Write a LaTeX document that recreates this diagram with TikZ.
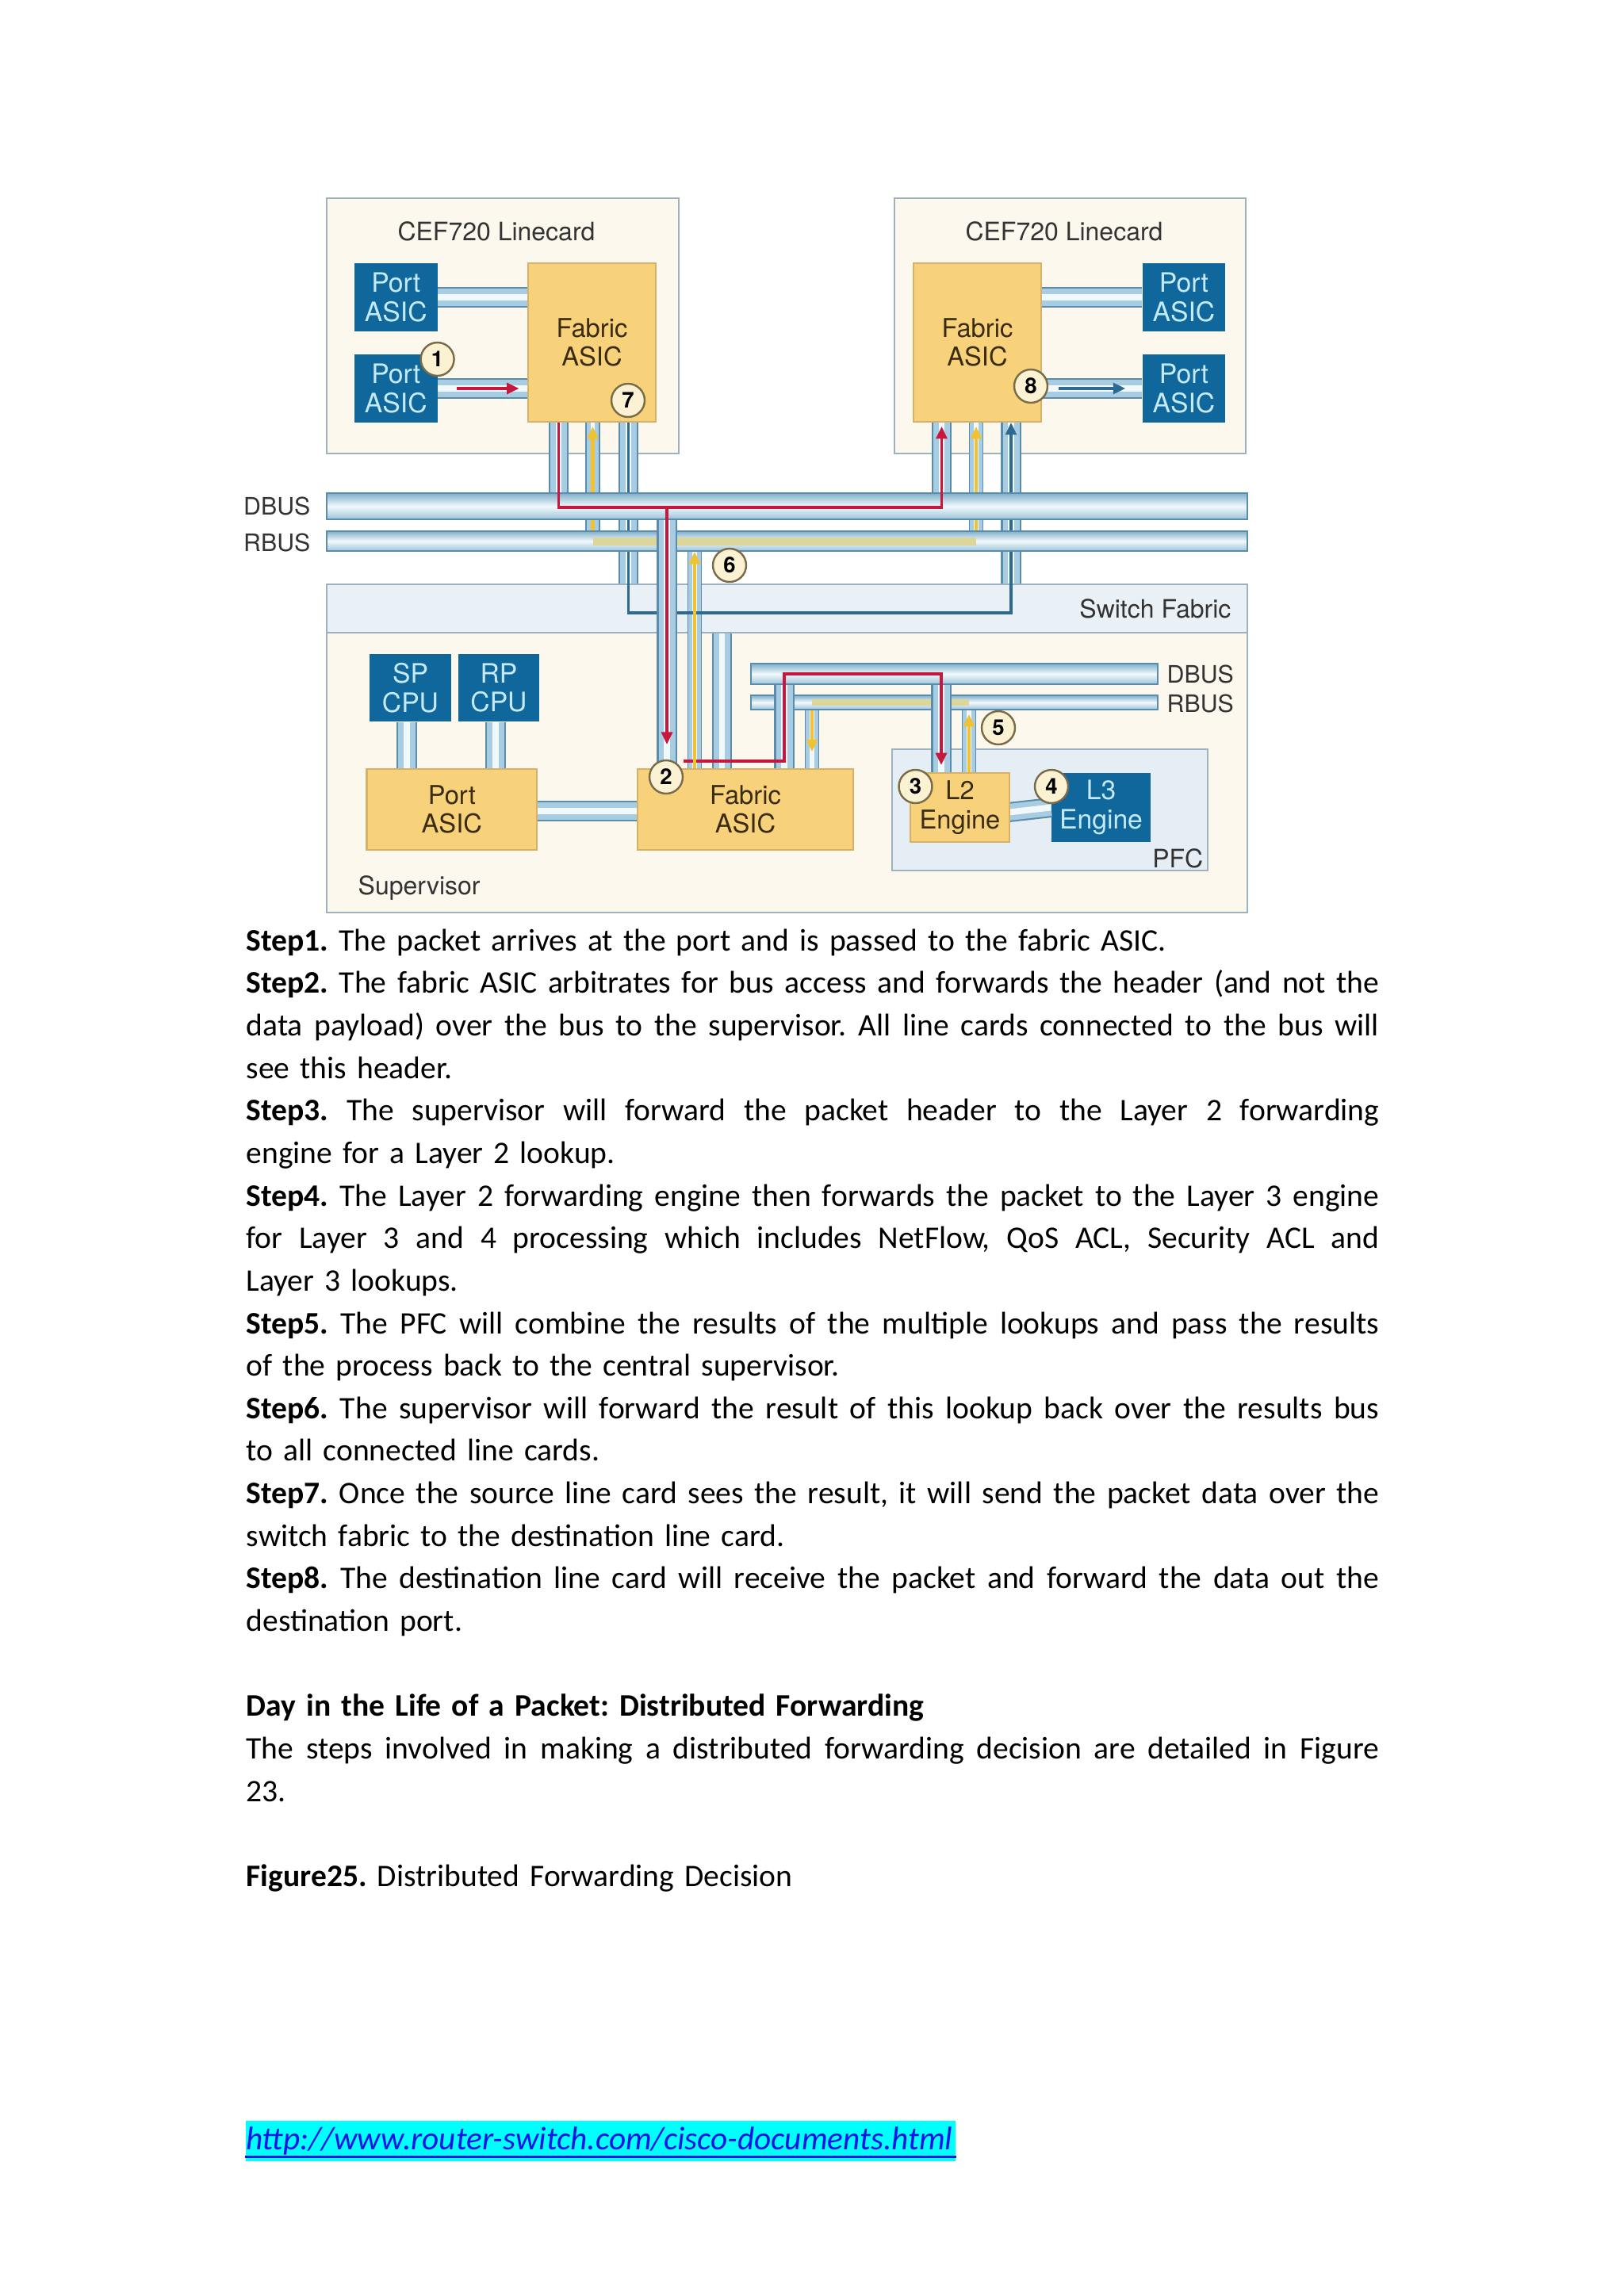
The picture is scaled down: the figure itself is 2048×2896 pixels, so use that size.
\documentclass[tikz,border=0pt]{standalone}
\usepackage{fontspec}
\setmainfont{Carlito}
\newfontfamily\hv{TeX Gyre Heros}
\usetikzlibrary{arrows.meta}
\definecolor{cardfill}{HTML}{FCF8EE}
\definecolor{cardline}{HTML}{9DB2BE}
\definecolor{portblue}{HTML}{10679C}
\definecolor{porttext}{HTML}{C4EAF8}
\definecolor{fabfill}{HTML}{F8D27B}
\definecolor{fabline}{HTML}{D6B167}
\definecolor{fabtext}{HTML}{3A2C12}
\definecolor{pipeedge}{HTML}{5A8CAB}
\definecolor{pipefill}{HTML}{A8CCE1}
\definecolor{pipehl}{HTML}{F2F9FD}
\definecolor{bustop}{HTML}{7FAFC9}
\definecolor{busbot}{HTML}{9CC3D8}
\definecolor{swffill}{HTML}{E9F1F7}
\definecolor{pfcfill}{HTML}{E6EEF5}
\definecolor{redln}{HTML}{C8173D}
\definecolor{yelln}{HTML}{F0C232}
\definecolor{yband}{HTML}{DDD69A}
\definecolor{bluln}{HTML}{2C6A92}
\definecolor{badgefill}{HTML}{FBF2D3}
\definecolor{badgeline}{HTML}{7A6B48}
\definecolor{labtext}{HTML}{333333}
\definecolor{ublue}{HTML}{1414E6}
\definecolor{hlcyan}{RGB}{0,255,255}
\newcommand\tube[4]{%
  \draw[pipeedge,line width=#1]#4;
  \draw[pipefill,line width=#2]#4;
  \draw[pipehl,line width=#3]#4;}
\newcommand\jline[1]{\hbox to 415.3pt{\spaceskip=0.226em plus 1em minus 0.06em\relax #1}}
\begin{document}
\begin{tikzpicture}[x=0.2907pt,y=-0.2907pt,
  dfont/.style={font=\hv\fontsize{9.3}{10.6}\selectfont},
  card/.style={draw=cardline, fill=cardfill, line width=0.8pt, inner sep=0},
  port/.style={font=\hv\fontsize{9.8}{10.6}\selectfont, fill=portblue, text=porttext, align=center, inner sep=0, minimum width=30.4pt, minimum height=25.2pt},
  fab/.style={font=\hv\fontsize{9.5}{10.6}\selectfont, draw=fabline, fill=fabfill, line width=0.6pt, text=fabtext, align=center, inner sep=0},
  lab/.style={dfont, text=labtext, inner sep=0},
  blab/.style={font=\hv\fontsize{8.8}{10}\selectfont, text=labtext, inner sep=0},
  bus/.style={draw=pipeedge, line width=0.5pt, top color=bustop, bottom color=busbot, middle color=pipehl, inner sep=0, minimum width=337.5pt},
  sbus/.style={draw=pipeedge, line width=0.5pt, top color=bustop, bottom color=busbot, middle color=pipehl, inner sep=0, minimum width=149.1pt},
  badge/.style={circle, draw=badgeline, line width=0.7pt, fill=badgefill, font=\hv\bfseries\fontsize{8}{8}\selectfont, minimum size=12.2pt, inner sep=0},
  tip/.style={-{Triangle[length=4.5pt,width=4pt]}},
  redar/.style={draw=redln, line width=1.1pt},
  yelar/.style={draw=yelln, line width=1.3pt},
  bluar/.style={draw=bluln, line width=1pt}
]
\fill[white] (0,0) rectangle (2048,2896);
\useasboundingbox (0,0) rectangle (2048,2896);

% x positions
\coordinate (xR1) at (704.5,0);
\coordinate (xY1) at (747.5,0);
\coordinate (xB1) at (792.5,0);
\coordinate (xR2) at (1187.5,0);
\coordinate (xY2) at (1231,0);
\coordinate (xB2) at (1275,0);
\coordinate (xRS) at (841,0);
\coordinate (xYS) at (876,0);
\coordinate (xBS) at (910.5,0);
\coordinate (xSP) at (513,0);
\coordinate (xRP) at (625,0);
\coordinate (xF1) at (989,0);
\coordinate (xF2) at (1024,0);
\coordinate (xL1) at (1187,0);
\coordinate (xL2) at (1222,0);
\coordinate (uY) at (0,773);
\coordinate (rY) at (0,640);
\coordinate (r3s) at (862,960);

% containers
\node[card, minimum width=129.1pt, minimum height=93.6pt] (lc1) at (634,411) {};
\node[card, minimum width=128.8pt, minimum height=93.6pt] (lc2) at (1349.5,411) {};
\node[lab] (lc1t) at (626,292) {CEF720 Linecard};
\node[lab] (lc2t) at (1342,292) {CEF720 Linecard};
\node[draw=cardline, fill=swffill, line width=0.8pt, inner sep=0, minimum width=337.5pt, minimum height=17.7pt] (swf) at (992.5,767.5) {};
\node[lab, anchor=east] (swft) at (1553,768) {Switch Fabric};
\node[card, minimum width=337.5pt, minimum height=102.6pt] (sup) at (992.5,974.5) {};
\node[lab, anchor=west] (supt) at (451,1120) {Supervisor};
\node[draw=cardline, fill=pfcfill, line width=0.8pt, inner sep=0, minimum width=115.7pt, minimum height=44.5pt] (pfc) at (1324,1021.5) {};
\node[lab, anchor=east] (pfct) at (1518,1083) {PFC};

% blue boxes
\node[port] (pa1) at (499.3,375) {Port\\ASIC};
\node[port] (pa2) at (499.3,490) {Port\\ASIC};
\node[port] (pa3) at (1492.9,375) {Port\\ASIC};
\node[port] (pa4) at (1492.9,490) {Port\\ASIC};
\node[port, minimum width=29.9pt, minimum height=24.7pt] (sp) at (517.5,867.5) {SP\\CPU};
\node[port, minimum width=29.9pt, minimum height=24.7pt] (rp) at (629,867.5) {RP\\CPU};
\node[port, minimum width=36.3pt, minimum height=25.3pt] (l3) at (1388.5,1018.5) {L3\\Engine};

% pipes
\tube{7.8pt}{6.6pt}{2.6pt}{(pa1.east) -- (pa1.east -| 666,0)}
\tube{7.8pt}{6.6pt}{2.6pt}{(pa2.east) -- (pa2.east -| 666,0)}
\tube{7.8pt}{6.6pt}{2.6pt}{(pa3.west -| 1313,0) -- (pa3.west)}
\tube{7.8pt}{6.6pt}{2.6pt}{(pa4.west -| 1313,0) -- (pa4.west)}
\tube{7.3pt}{6.1pt}{2.3pt}{(xR1 |- 0,531) -- (xR1 |- 0,622)}
\tube{5.5pt}{4.4pt}{1.6pt}{(xY1 |- 0,531) -- (xY1 |- 0,670)}
\tube{7.3pt}{6.1pt}{2.3pt}{(xB1 |- 0,531) -- (xB1 |- swf.north)}
\tube{7.3pt}{6.1pt}{2.3pt}{(xR2 |- 0,531) -- (xR2 |- 0,622)}
\tube{5.5pt}{4.4pt}{1.6pt}{(xY2 |- 0,531) -- (xY2 |- 0,670)}
\tube{7.3pt}{6.1pt}{2.3pt}{(xB2 |- 0,531) -- (xB2 |- swf.north)}
\tube{5.5pt}{4.4pt}{1.6pt}{(xYS |- 0,695) -- (xYS |- 0,970)}
\tube{7.3pt}{6.1pt}{2.3pt}{(xBS |- swf.south) -- (xBS |- 0,970)}
\tube{7.8pt}{6.6pt}{2.6pt}{(xSP |- sp.south) -- (xSP |- 0,970)}
\tube{7.8pt}{6.6pt}{2.6pt}{(xRP |- rp.south) -- (xRP |- 0,970)}
\tube{7.8pt}{6.6pt}{2.6pt}{(676,1023) -- (804,1023)}
\tube{5.5pt}{4.4pt}{1.6pt}{(xF2 |- 0,894) -- (xF2 |- 0,970)}
\tube{5.5pt}{4.4pt}{1.6pt}{(xL2 |- 0,894) -- (xL2 |- 0,975)}
\tube{7.3pt}{6.1pt}{2.3pt}{(1272,1024.5) -- (l3.west)}

% lines under the buses
\draw[bluar, tip] (xB1 |- 0,531) -- (xB1 |- uY) -- (xB2 |- uY) -- (xB2 |- 0,533);
\draw[yelar, tip] (xY1 |- 0,683) -- (xY1 |- 0,538);
\draw[yelar, tip] (xY2 |- 0,683) -- (xY2 |- 0,538);

% buses
\node[bus, minimum height=9.6pt] (dbus) at (992.5,638.5) {};
\node[bus, minimum height=7.3pt] (rbus) at (992.5,682.5) {};
\node[blab, anchor=east] (dbl) at (392,638) {DBUS};
\node[blab, anchor=east] (rbl) at (392,684) {RBUS};
\node[sbus, minimum height=7.6pt] (sdbus) at (1203.5,850) {};
\node[sbus, minimum height=5.2pt] (srbus) at (1203.5,886) {};
\node[blab, anchor=west] (sdl) at (1471,850) {DBUS};
\node[blab, anchor=west] (srl) at (1471,887) {RBUS};

% result bands
\draw[yband, line width=2.9pt] (xY1 |- rbus.center) -- (xY2 |- rbus.center);
\draw[yband, line width=2.3pt] (xF2 |- srbus.center) -- (xL2 |- srbus.center);

% pipes over the buses
\tube{7.3pt}{6.1pt}{2.3pt}{(xRS |- dbus.south) -- (xRS |- 0,970)}
\tube{7.3pt}{6.1pt}{2.3pt}{(xF1 |- sdbus.south) -- (xF1 |- 0,970)}
\tube{7.3pt}{6.1pt}{2.3pt}{(xL1 |- sdbus.south) -- (xL1 |- 0,975)}

% yellow boxes on top
\node[fab, minimum width=46.8pt, minimum height=58.1pt] (fa1) at (746.5,431.7) {Fabric\\ASIC};
\node[fab, minimum width=47pt, minimum height=58.1pt] (fa2) at (1232.5,431.7) {Fabric\\ASIC};
\node[fab, minimum width=62.4pt, minimum height=29.7pt] (spa) at (569.8,1021) {Port\\ASIC};
\node[fab, minimum width=79.1pt, minimum height=29.7pt] (sfa) at (940,1021) {Fabric\\ASIC};
\node[fab, minimum width=36.3pt, minimum height=25.3pt] (l2) at (1210.5,1018.5) {L2\\Engine};

% signal lines
\draw[redar, tip, shorten <=7pt, shorten >=3pt] (pa2.east) -- (pa2.east -| fa1.west);
\draw[redar, tip] (fa1.south -| xR1) -- (xR1 |- rY) -- (xR2 |- rY) -- ([yshift=-1.5pt]fa2.south -| xR2);
\draw[redar, tip, shorten >=8.7pt] (xRS |- rY) -- (sfa.north -| xRS);
\draw[redar, tip, shorten >=2.6pt] (r3s) -- (xF1 |- r3s) -- (xF1 |- sdbus.center) -- (xL1 |- sdbus.center) -- (l2.north -| xL1);
\draw[yelar, tip] (sfa.north -| xYS) -- (rbus.south -| xYS);
\draw[yelar, tip, shorten >=1.5pt] (l2.north -| xL2) -- (srbus.south -| xL2);
\draw[yelar, tip, shorten >=6pt] (srbus.south -| xF2) -- (sfa.north -| xF2);
\draw[bluar, tip, shorten <=6pt, shorten >=6pt] (fa2.east |- pa4.west) -- (pa4.west);

% badges
\node[badge] (b1) at (551.6,453) {1};
\node[badge] (b2) at (840,980) {2};
\node[badge] (b3) at (1154.5,992) {3};
\node[badge] (b4) at (1326,992) {4};
\node[badge] (b5) at (1259,918) {5};
\node[badge] (b6) at (920,713) {6};
\node[badge] (b7) at (792,505) {7};
\node[badge] (b8) at (1300,487) {8};

% body text
\node[anchor=base west, inner sep=0, text width=415.3pt, font=\fontsize{11.5}{15.6}\selectfont\frenchspacing] (body) at (310,1199) {%
\textbf{Step1.} The packet arrives at the port and is passed to the fabric ASIC.\newline
\jline{\textbf{Step2.} The fabric ASIC arbitrates for bus access and forwards the header (and not the}\newline
\jline{data payload) over the bus to the supervisor. All line cards connected to the bus will}\newline
see this header.\newline
\jline{\textbf{Step3.} The supervisor will forward the packet header to the Layer 2 forwarding}\newline
engine for a Layer 2 lookup.\newline
\jline{\textbf{Step4.} The Layer 2 forwarding engine then forwards the packet to the Layer 3 engine}\newline
\jline{for Layer 3 and 4 processing which includes NetFlow, QoS ACL, Security ACL and}\newline
Layer 3 lookups.\newline
\jline{\textbf{Step5.} The PFC will combine the results of the multiple lookups and pass the results}\newline
of the process back to the central supervisor.\newline
\jline{\textbf{Step6.} The supervisor will forward the result of this lookup back over the results bus}\newline
to all connected line cards.\newline
\jline{\textbf{Step7.} Once the source line card sees the result, it will send the packet data over the}\newline
switch fabric to the destination line card.\newline
\jline{\textbf{Step8.} The destination line card will receive the packet and forward the data out the}\newline
destination port.\newline
\mbox{}\newline
\textbf{Day in the Life of a Packet: Distributed Forwarding}\newline
\jline{The steps involved in making a distributed forwarding decision are detailed in Figure}\newline
23.\newline
\mbox{}\newline
\textbf{Figure25.} Distributed Forwarding Decision};

% url
\node[fill=hlcyan, inner sep=0, minimum height=14.8pt, text width=260.2pt, text=ublue, font=\itshape\fontsize{12}{14}\selectfont, anchor=west] (url) at (309.4,2700.5) {http://www.router-switch.com/cisco-documents.html};
\draw[ublue, line width=1pt] ([yshift=1.8pt]url.south west) -- ([yshift=1.8pt]url.south east);
\end{tikzpicture}
\end{document}
